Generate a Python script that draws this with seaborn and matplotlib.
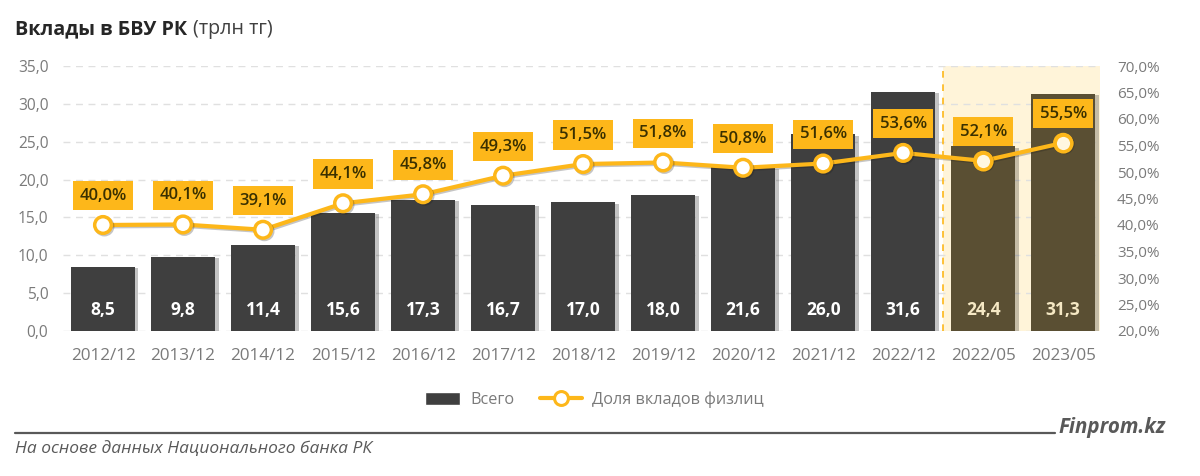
import matplotlib
matplotlib.use("Agg")
import matplotlib.pyplot as plt
import matplotlib.patheffects as pe
from matplotlib.legend_handler import HandlerPatch
from matplotlib.lines import Line2D
from matplotlib.patches import Patch
import pandas as pd
import seaborn as sns

# === Données ===
periodes = ["2012/12", "2013/12", "2014/12", "2015/12", "2016/12", "2017/12", "2018/12",
            "2019/12", "2020/12", "2021/12", "2022/12", "2022/05", "2023/05"]
vklady = [8.5, 9.8, 11.4, 15.6, 17.3, 16.7, 17.0, 18.0, 21.6, 26.0, 31.6, 24.4, 31.3]
dolya = [40.0, 40.1, 39.1, 44.1, 45.8, 49.3, 51.5, 51.8, 50.8, 51.6, 53.6, 52.1, 55.5]
ticks_gauche = [0, 5, 10, 15, 20, 25, 30, 35]
ticks_droite = [20, 25, 30, 35, 40, 45, 50, 55, 60, 65, 70]

JAUNE = "#FDB71A"
GRIS_BARRE = "#3F3F3F"
OLIVE = "#5A4F33"
GRIS_TEXTE = "#7A7A7A"
nb_gris = 11


def virgule(v):
    return f"{v:.1f}".replace(".", ",")


sns.set_theme(style="white")
plt.rcParams["font.family"] = ["Open Sans", "DejaVu Sans"]

df = pd.DataFrame({"periode": periodes, "vklady": vklady, "dolya": dolya})
couleurs = [GRIS_BARRE] * nb_gris + [OLIVE] * (len(periodes) - nb_gris)

fig = plt.figure(figsize=(12, 4.76), dpi=100)
ax = fig.add_axes([63 / 1200, 1 - 331 / 476, 1037 / 1200, 265 / 476])

# === Barres ===
sns.barplot(data=df, x="periode", y="vklady", hue="periode", palette=couleurs,
            legend=False, width=0.8, saturation=1, linewidth=0, ax=ax, zorder=3)
for barre in ax.patches:
    barre.set_path_effects([pe.SimplePatchShadow(offset=(2.5, -1), alpha=0.25), pe.Normal()])

ax.set_xlim(-0.5, 12.46)
ax.set_ylim(0, 35)
ax.set_xlabel("")
ax.set_ylabel("")
ax.set_yticks(ticks_gauche)
ax.set_yticklabels([virgule(t) for t in ticks_gauche])
ax.tick_params(axis="x", length=0, labelsize=12.3, labelcolor=GRIS_TEXTE, pad=12.5)
ax.tick_params(axis="y", length=0, labelsize=11.2, labelcolor=GRIS_TEXTE, pad=10.5)
ax.grid(axis="y", color="#E0E0E0", linestyle=(0, (5, 4)), linewidth=1, zorder=1)
ax.set_axisbelow(True)
sns.despine(ax=ax, left=True, bottom=True, right=True, top=True)

# Zone mise en évidence
ax.axvspan(10.5, 12.46, color="#FFF4D9", zorder=0, linewidth=0)
ax.axvline(10.5, color=JAUNE, linestyle=(0, (4, 4)), linewidth=1.2, zorder=2)

for i, v in enumerate(vklady):
    coul = "white" if i < nb_gris else "#F5E8C4"
    ax.text(i, 2.8, virgule(v), ha="center", va="center", fontsize=12.5, fontweight="bold",
            color=coul, zorder=4)

# === Ligne, axe droit ===
ax2 = ax.twinx()
sns.lineplot(data=df, x="periode", y="dolya", sort=False, color=JAUNE, linewidth=3, ax=ax2,
             marker="o", markersize=12, markerfacecolor="white", markeredgecolor=JAUNE,
             markeredgewidth=2.5, legend=False, zorder=5)
ax2.lines[0].set_path_effects([pe.SimpleLineShadow(offset=(1, -1), alpha=0.25), pe.Normal()])
# les deux derniers points sont crème
sns.scatterplot(data=df.iloc[nb_gris:], x="periode", y="dolya", s=144, color="#FFF7E0",
                edgecolor=JAUNE, linewidth=2.5, legend=False, zorder=6, ax=ax2)
ax2.set_xlim(ax.get_xlim())
ax2.set_ylim(20, 70)
ax2.set_xlabel("")
ax2.set_ylabel("")
ax2.set_yticks(ticks_droite)
ax2.set_yticklabels([virgule(t) + "%" for t in ticks_droite])
ax2.tick_params(axis="y", length=0, labelsize=11, labelcolor=GRIS_TEXTE, pad=12.3)
ax2.grid(False)
sns.despine(ax=ax2, left=True, bottom=True, right=True, top=True)

for i, d in enumerate(dolya):
    ax2.annotate(virgule(d) + "%", (i, d), xytext=(0, 21), textcoords="offset points",
                 ha="center", va="center", fontsize=12, fontweight="semibold", color="#3A3000",
                 bbox=dict(boxstyle="square,pad=0.4", fc=JAUNE, ec="none"), zorder=7)

# === Légende ===
poignees = [Patch(facecolor=GRIS_BARRE, label="Всего"),
            Line2D([], [], color=JAUNE, linewidth=3, marker="o", markersize=10,
                   markerfacecolor="white", markeredgecolor=JAUNE, markeredgewidth=2.2,
                   label="Доля вкладов физлиц")]
leg = fig.legend(handles=poignees, loc="center", bbox_to_anchor=(591 / 1200, 1 - 400 / 476), ncol=2,
                 frameon=False, fontsize=11.7, handlelength=2.6, handleheight=0.9, columnspacing=1.6,
                 handletextpad=0.6, handler_map={Patch: HandlerPatch(xpad=0.42)})
for t in leg.get_texts():
    t.set_color(GRIS_TEXTE)

# === Titre et pied ===
fig.text(15 / 1200, 1 - 29 / 476, "Вклады в БВУ РК", fontsize=14.2, fontweight="bold", color="#262626",
         va="center")
fig.text(193 / 1200, 1 - 29 / 476, "(трлн тг)", fontsize=14.2, color="#404040", va="center")
fig.add_artist(Line2D([15 / 1200, 1055 / 1200], [1 - 433 / 476] * 2, color="#595959", linewidth=1.6))
fig.text(1058 / 1200, 1 - 428 / 476, "Finprom.kz", fontsize=14.8, fontweight="bold", fontstyle="italic",
         color="#595959", va="center")
fig.text(15 / 1200, 1 - 449 / 476, "На основе данных Национального банка РК", fontsize=12.5,
         fontstyle="italic", color="#595959", va="center")

fig.savefig("out.png", dpi=100)
plt.close(fig)
